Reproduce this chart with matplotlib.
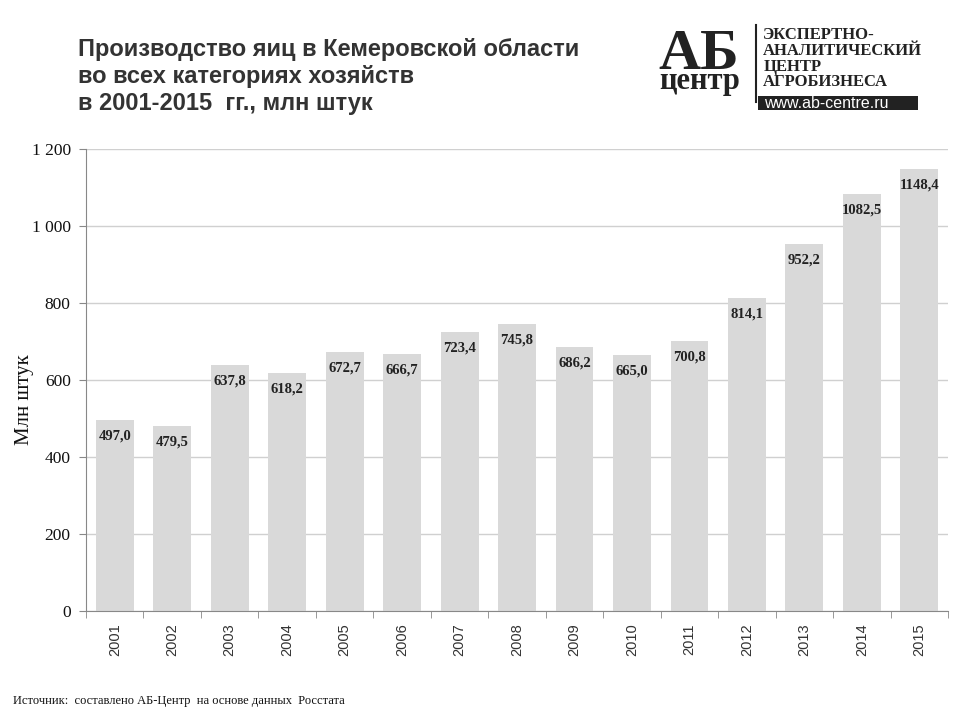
import matplotlib.pyplot as plt
from matplotlib.ticker import FixedLocator, FuncFormatter
from matplotlib.patches import Rectangle
import numpy as np

years = ['2001', '2002', '2003', '2004', '2005', '2006', '2007', '2008',
         '2009', '2010', '2011', '2012', '2013', '2014', '2015']
values = [497.0, 479.5, 637.8, 618.2, 672.7, 666.7, 723.4, 745.8,
          686.2, 665.0, 700.8, 814.1, 952.2, 1082.5, 1148.4]
y_ticks = [0, 200, 400, 600, 800, 1000, 1200]

serif = 'Liberation Serif'
sans = 'Liberation Sans'

fig = plt.figure(figsize=(9.6, 7.2), dpi=100)
ax = fig.add_axes([0.0896, 0.1514, 0.898, 0.6417])

x = np.arange(len(years))
ax.bar(x, values, width=0.66, color='#d9d9d9', zorder=2)
ax.set_xlim(-0.5, len(years) - 0.5)
ax.set_ylim(0, 1200)

for xi, v in zip(x, values):
    lbl = f'{v:.1f}'.replace('.', ',')
    ax.annotate(lbl, (xi, v), xytext=(0, -11.5), textcoords='offset points',
                ha='center', va='center', fontsize=10.5, fontweight='bold',
                family=serif, color='#222222', zorder=3)

ax.set_yticks(y_ticks)
ax.yaxis.set_major_formatter(FuncFormatter(lambda v, p: f'{int(v):,}'.replace(',', ' ')))
ax.grid(axis='y', color='#d0d0d0', linewidth=1, zorder=0)
ax.tick_params(axis='y', length=5, color='#888888', labelsize=12.5, pad=6)
for t in ax.get_yticklabels():
    t.set_family(serif)
    t.set_color('#111111')

ax.set_xticks(x)
ax.set_xticklabels(years, rotation=90, family=sans, fontsize=10.5, color='#333333')
ax.tick_params(axis='x', which='major', length=0, pad=9)
ax.xaxis.set_minor_locator(FixedLocator(np.arange(-0.5, len(years), 1.0)))
ax.tick_params(axis='x', which='minor', length=5, color='#888888')

for s in ['top', 'right']:
    ax.spines[s].set_visible(False)
for s in ['left', 'bottom']:
    ax.spines[s].set_color('#888888')

ax.set_ylabel('Млн штук', family=serif, fontsize=15, color='#111111')
ax.yaxis.set_label_coords(-0.06, 0.457)

# Title
fig.text(0.081, 0.947, 'Производство яиц в Кемеровской области\nво всех категориях хозяйств\nв 2001-2015  гг., млн штук',
         family=sans, fontsize=17, fontweight='bold', color='#333333',
         va='top', ha='left', linespacing=1.22)

# Logo
fig.text(0.686, 0.904, 'АБ', family=serif, fontsize=42, fontweight='bold',
         color='#222222', ha='left', va='baseline')
fig.text(0.687, 0.876, 'центр', family=serif, fontsize=22, fontweight='bold',
         color='#222222', ha='left', va='baseline')
fig.add_artist(plt.Line2D([0.787, 0.787], [0.858, 0.965], color='#222222', lw=1.5))
fig.text(0.795, 0.962, 'ЭКСПЕРТНО-\nАНАЛИТИЧЕСКИЙ\nЦЕНТР\nАГРОБИЗНЕСА',
         family=serif, fontsize=12, fontweight='bold', color='#222222',
         ha='left', va='top', linespacing=0.97)
fig.add_artist(Rectangle((0.790, 0.847), 0.166, 0.0195, transform=fig.transFigure,
                         facecolor='#222222', edgecolor='none'))
fig.text(0.796, 0.856, 'www.ab-centre.ru', family=sans, fontsize=11.5,
         color='white', ha='left', va='center')

fig.text(0.014, 0.027, 'Источник:  составлено АБ-Центр  на основе данных  Росстата',
         family=serif, fontsize=9, color='#111111', ha='left', va='center')

fig.savefig('out.png', dpi=100)
